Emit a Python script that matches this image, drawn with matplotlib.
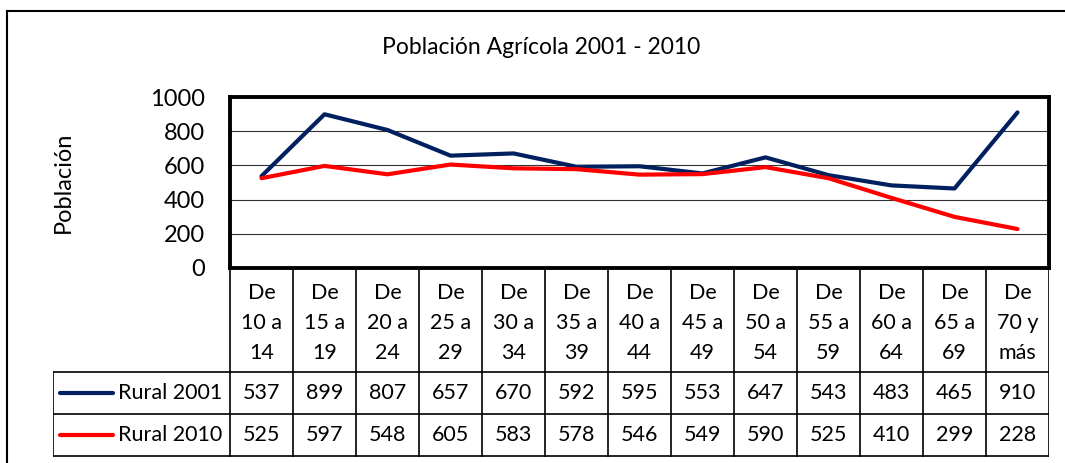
import matplotlib.pyplot as plt
from matplotlib.lines import Line2D

plt.rcParams['font.family'] = ['Lato', 'DejaVu Sans']

# datos
grupos = ["De\n10 a\n14", "De\n15 a\n19", "De\n20 a\n24", "De\n25 a\n29", "De\n30 a\n34",
          "De\n35 a\n39", "De\n40 a\n44", "De\n45 a\n49", "De\n50 a\n54", "De\n55 a\n59",
          "De\n60 a\n64", "De\n65 a\n69", "De\n70 y\nmás"]
rural_2001 = [537, 899, 807, 657, 670, 592, 595, 553, 647, 543, 483, 465, 910]
rural_2010 = [525, 597, 548, 605, 583, 578, 546, 549, 590, 525, 410, 299, 228]
series = ["Rural 2001", "Rural 2010"]
colores = ["#002060", "#ff0000"]

W, H = 1065, 463
fig = plt.figure(figsize=(W / 100, H / 100), dpi=100)

def caja(x0, y0, x1, y1):
    # pixeles (origen arriba a la izquierda) -> fraccion de figura
    return [x0 / W, 1 - y1 / H, (x1 - x0) / W, (y1 - y0) / H]

# marco exterior
fig.add_artist(Line2D([7 / W, 1], [1 - 11 / H, 1 - 11 / H], color="black", lw=1.5))
fig.add_artist(Line2D([7 / W, 7 / W], [1 - 11 / H, 0], color="black", lw=1.5))

fig.text(541 / W, 1 - 47 / H, "Población Agrícola 2001 - 2010", ha="center", va="center", fontsize=16.5)

# grafico de lineas
ax = fig.add_axes(caja(230, 97, 1049, 268))
x = range(len(grupos))
ax.plot(x, rural_2001, color=colores[0], lw=3, solid_capstyle="round", zorder=3)
ax.plot(x, rural_2010, color=colores[1], lw=3, solid_capstyle="round", zorder=3)
ax.set_xlim(-0.5, len(grupos) - 0.5)
ax.set_ylim(0, 1000)
ax.set_yticks(range(0, 1001, 200))
ax.set_xticks([])
ax.yaxis.grid(True, color="#333333", lw=0.8)
ax.tick_params(axis="y", length=0, labelsize=17, pad=18)
for s in ax.spines.values():
    s.set_linewidth(2.8)
ax.set_ylabel("Población", fontsize=17, labelpad=55)

# tabla de datos
tb = fig.add_axes(caja(53, 268, 1049, 457))
cw = (1049 - 230) / len(grupos)
izq = -0.5 - (230 - 53) / cw
tb.set_xlim(izq, len(grupos) - 0.5)
tb.set_ylim(457, 268)
tb.axis("off")
y_filas = [268, 372, 414, 456]
lw = 1.2
for i in range(len(grupos) + 1):
    tb.plot([i - 0.5, i - 0.5], [268, 456], color="black", lw=lw)
tb.plot([izq, izq], [372, 456], color="black", lw=lw)
for y in y_filas[1:]:
    tb.plot([izq, len(grupos) - 0.5], [y, y], color="black", lw=lw)
for i, g in enumerate(grupos):
    tb.text(i, 323, g, ha="center", va="center", fontsize=15.5, linespacing=1.62)
for r, (nombre, vals, c) in enumerate(zip(series, [rural_2001, rural_2010], colores)):
    yc = (y_filas[r + 1] + y_filas[r + 2]) / 2
    for i, v in enumerate(vals):
        tb.text(i, yc, str(v), ha="center", va="center", fontsize=15.5)
    tb.plot([izq + 7 / cw, izq + 60 / cw], [yc, yc], color=c, lw=3, solid_capstyle="round")
    tb.text(izq + 65 / cw, yc, nombre, ha="left", va="center", fontsize=15.5)

fig.savefig("out.png", dpi=100)
